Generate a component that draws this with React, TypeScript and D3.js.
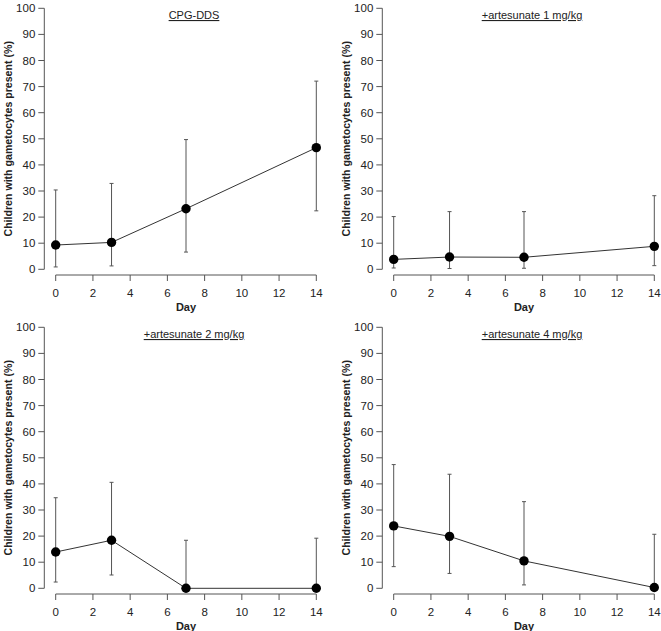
import React from "react";
import * as d3 from "d3";

// days on which gametocytes were counted
const days = [0, 3, 7, 14];

const titles = ["CPG-DDS", "+artesunate 1 mg/kg", "+artesunate 2 mg/kg", "+artesunate 4 mg/kg"];

// percentage of children with gametocytes, with 95% CI
const cpgValues = [9.3, 10.3, 23.2, 46.6];
const cpgLower = [0.9, 1.3, 6.6, 22.4];
const cpgUpper = [30.4, 32.9, 49.7, 72.1];

const art1Values = [3.8, 4.7, 4.6, 8.8];
const art1Lower = [0.5, 0.3, 0.4, 1.4];
const art1Upper = [20.2, 22.1, 22.1, 28.2];

const art2Values = [13.9, 18.4, 0, 0];
const art2Lower = [2.4, 5.1, 0, 0];
const art2Upper = [34.7, 40.6, 18.4, 19.2];

const art4Values = [23.9, 19.9, 10.5, 0.3];
const art4Lower = [8.3, 5.7, 1.3, 0];
const art4Upper = [47.4, 43.7, 33.2, 20.7];

const yTicks = [0, 10, 20, 30, 40, 50, 60, 70, 80, 90, 100];
const xTicks = [0, 2, 4, 6, 8, 10, 12, 14];

const panels = [
  { title: titles[0], values: cpgValues, lower: cpgLower, upper: cpgUpper },
  { title: titles[1], values: art1Values, lower: art1Lower, upper: art1Upper },
  { title: titles[2], values: art2Values, lower: art2Lower, upper: art2Upper },
  { title: titles[3], values: art4Values, lower: art4Lower, upper: art4Upper },
];

const font = "'Liberation Sans', Arial, sans-serif";
const axisColor = "#555";

const Panel = ({ p, dx, dy }) => {
  const x = d3.scaleLinear().domain([0, 14]).range([55.7, 316.3]);
  const y = d3.scaleLinear().domain([0, 100]).range([269.3, 8.3]);
  const yAxisX = 44.3;
  const xAxisY = 275;

  const line = d3
    .line<number>()
    .x((d, i) => x(days[i]))
    .y((d) => y(d));

  return (
    <g transform={`translate(${dx},${dy})`} fontFamily={font}>
      {/* y axis */}
      <line x1={yAxisX} x2={yAxisX} y1={y(0)} y2={y(100)} stroke={axisColor} />
      {yTicks.map((t) => (
        <g key={t}>
          <line x1={yAxisX - 6} x2={yAxisX} y1={y(t)} y2={y(t)} stroke={axisColor} />
          <text x={yAxisX - 9} y={y(t)} dy="0.35em" textAnchor="end" fontSize={11.5} fill="#222">
            {t}
          </text>
        </g>
      ))}
      <text
        transform={`translate(7.5,${(y(0) + y(100)) / 2}) rotate(-90)`}
        textAnchor="middle"
        dominantBaseline="central"
        fontSize={10.6}
        fontWeight="bold"
        fill="#222"
      >
        Children with gametocytes present (%)
      </text>

      {/* x axis */}
      <line x1={x(0)} x2={x(14)} y1={xAxisY} y2={xAxisY} stroke={axisColor} />
      {xTicks.map((t) => (
        <g key={t}>
          <line x1={x(t)} x2={x(t)} y1={xAxisY} y2={xAxisY + 6} stroke={axisColor} />
          <text x={x(t)} y={xAxisY + 21.5} textAnchor="middle" fontSize={11.5} fill="#222">
            {t}
          </text>
        </g>
      ))}
      <text x={(x(0) + x(14)) / 2} y={xAxisY + 36} textAnchor="middle" fontSize={11} fontWeight="bold" fill="#222">
        Day
      </text>

      {/* title */}
      <text x={(x(0) + x(14)) / 2 + 8} y={19} textAnchor="middle" fontSize={11} fill="#222" textDecoration="underline">
        {p.title}
      </text>

      {/* error bars */}
      {days.map((d, i) => (
        <g key={d} stroke={axisColor}>
          <line x1={x(d)} x2={x(d)} y1={y(p.lower[i])} y2={y(p.upper[i])} />
          <line x1={x(d) - 2} x2={x(d) + 2} y1={y(p.lower[i])} y2={y(p.lower[i])} />
          <line x1={x(d) - 2} x2={x(d) + 2} y1={y(p.upper[i])} y2={y(p.upper[i])} />
        </g>
      ))}

      <path d={line(p.values) || ""} fill="none" stroke="#333" strokeWidth={1} />
      {p.values.map((v, i) => (
        <circle key={i} cx={x(days[i])} cy={y(v)} r={4.7} fill="#000" />
      ))}
    </g>
  );
};

export default function App() {
  const offsets = [
    [0, 0],
    [338, 0],
    [0, 319],
    [338, 319],
  ];
  return (
    <svg width={661} height={631} style={{ position: "absolute", left: 0, top: 0, background: "#fff" }}>
      <rect width={661} height={631} fill="#fff" />
      {panels.map((p, i) => (
        <Panel key={i} p={p} dx={offsets[i][0]} dy={offsets[i][1]} />
      ))}
    </svg>
  );
}
